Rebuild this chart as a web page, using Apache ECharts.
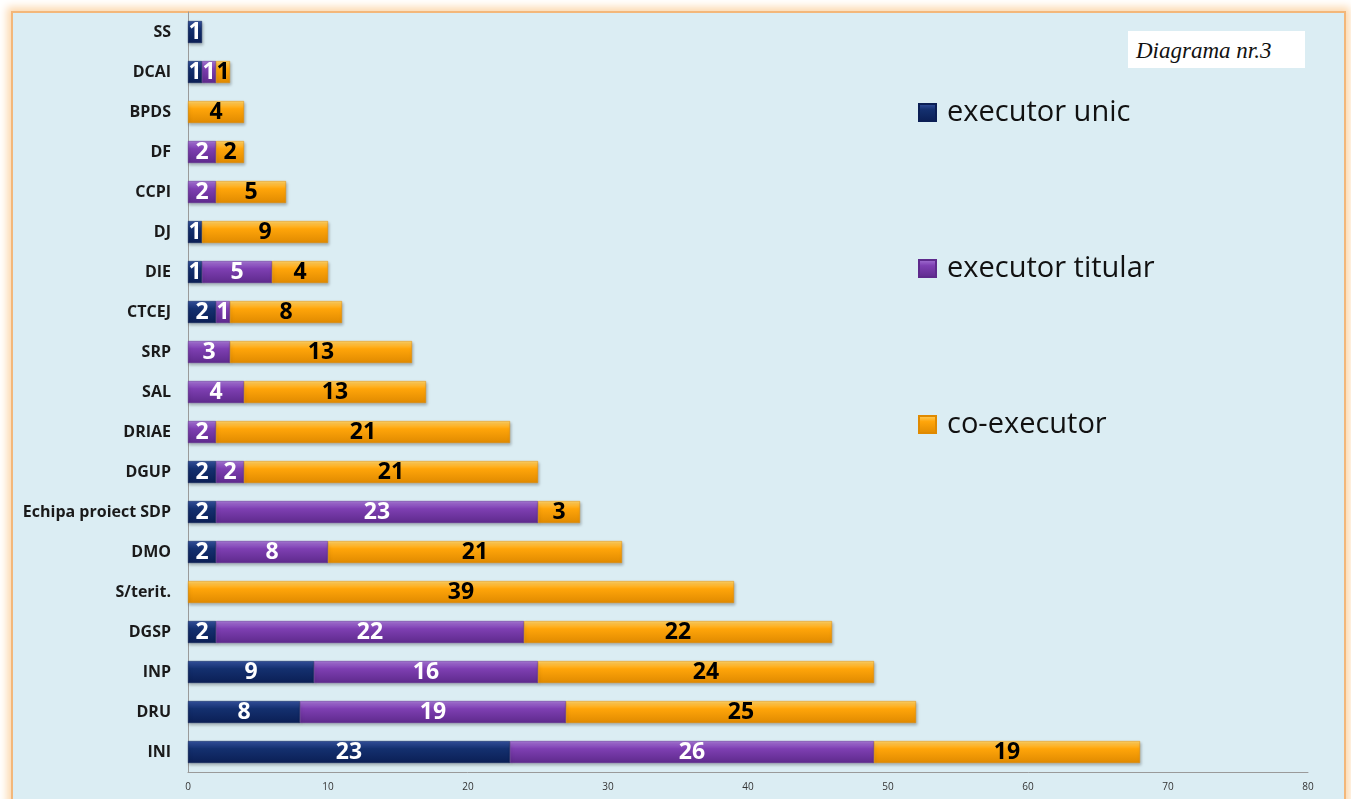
<!DOCTYPE html>
<html>
<head>
<meta charset="utf-8">
<script src="https://cdn.jsdelivr.net/npm/echarts@6/dist/echarts.min.js"></script>
<style>
  html, body { margin: 0; padding: 0; background: #ffffff; overflow: hidden; }
  .panel {
    position: absolute; left: 11px; top: 11px; width: 1331px; height: 800px;
    background: #dbedf3;
    border: 2px solid #f3b77a;
    box-shadow: 0 0 8px 4px #fcd9b0;
  }
  #chart { position: absolute; left: 0; top: 0; width: 1351px; height: 799px; }
  .tag {
    position: absolute; left: 1128px; top: 31px; width: 177px; height: 37px;
    background: #ffffff; font-family: "Liberation Serif", serif; font-style: italic;
    font-size: 23px; line-height: 40px; color: #111; padding-left: 8px; box-sizing: border-box;
  }
</style>
</head>
<body>
<div class="panel"></div>
<div id="chart"></div>
<div class="tag">Diagrama nr.3</div>
<script>
// categories listed bottom to top
const categories = ['INI', 'DRU', 'INP', 'DGSP', 'S/terit.', 'DMO', 'Echipa proiect SDP', 'DGUP', 'DRIAE',
  'SAL', 'SRP', 'CTCEJ', 'DIE', 'DJ', 'CCPI', 'DF', 'BPDS', 'DCAI', 'SS']
const executorUnic = [23, 8, 9, 2, null, 2, 2, 2, null, null, null, 2, 1, 1, null, null, null, 1, 1]
const executorTitular = [26, 19, 16, 22, null, 8, 23, 2, 2, 4, 3, 1, 5, null, 2, 2, null, 1, null]
const coExecutor = [19, 25, 24, 22, 39, 21, 3, 21, 21, 13, 13, 8, 4, 9, 5, 2, 4, 1, null]
const seriesNames = ['executor unic', 'executor titular', 'co-executor']
const xTicks = [0, 10, 20, 30, 40, 50, 60, 70, 80]

function grad(top, mid, bottom) {
  return new echarts.graphic.LinearGradient(0, 0, 0, 1, [
    { offset: 0, color: top },
    { offset: 0.35, color: mid },
    { offset: 1, color: bottom },
  ])
}

function makeSeries(name, data, colors, labelColor) {
  return {
    name: name,
    type: 'bar',
    stack: 'total',
    barWidth: 22,
    data: data,
    itemStyle: {
      color: grad(colors[0], colors[1], colors[2]),
      borderColor: colors[2],
      borderWidth: 0.5,
      shadowColor: 'rgba(0,0,0,0.25)',
      shadowBlur: 3,
      shadowOffsetX: 1,
      shadowOffsetY: 2,
    },
    label: {
      show: true,
      position: 'inside',
      color: labelColor,
      fontFamily: 'Open Sans',
      fontWeight: 'bold',
      fontSize: 23,
      formatter: function (p) {
        return p.value == null ? '' : p.value
      },
    },
  }
}

let myChart = echarts.init(document.getElementById('chart'))
myChart.setOption({
  backgroundColor: 'transparent',
  animation: false,
  grid: { left: 188, right: 43, top: 12, bottom: 27 },
  legend: {
    orient: 'vertical',
    left: 913,
    top: 93,
    itemWidth: 17,
    itemHeight: 17,
    itemGap: 127,
    icon: 'rect',
    data: seriesNames,
    textStyle: { fontFamily: 'Open Sans', fontSize: 29, color: '#111', padding: [0, 0, 0, 6] },
  },
  xAxis: {
    type: 'value',
    min: xTicks[0],
    max: xTicks[xTicks.length - 1],
    interval: 10,
    splitLine: { show: false },
    axisLine: { show: true, lineStyle: { color: '#9a9a9a' } },
    axisTick: { show: false },
    axisLabel: { color: '#333', fontSize: 10, fontFamily: 'Open Sans', margin: 10 },
  },
  yAxis: {
    type: 'category',
    data: categories,
    axisLine: { show: true, lineStyle: { color: '#9a9a9a' } },
    axisTick: { show: false },
    axisLabel: { color: '#1a1a1a', fontSize: 16, fontWeight: 'bold', fontFamily: 'Open Sans', margin: 17 },
  },
  series: [
    makeSeries(seriesNames[0], executorUnic, ['#3552a0', '#14306f', '#0b1f55'], '#ffffff'),
    makeSeries(seriesNames[1], executorTitular, ['#a676d6', '#7e3fb2', '#5e2a8c'], '#ffffff'),
    makeSeries(seriesNames[2], coExecutor, ['#ffd266', '#ffa50a', '#e08a00'], '#000000'),
  ],
})
</script>
</body>
</html>
